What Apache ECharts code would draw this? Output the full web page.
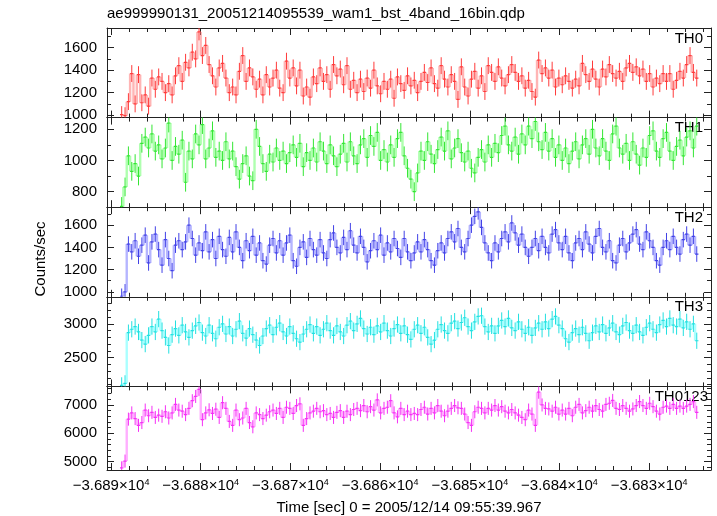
<!DOCTYPE html>
<html><head><meta charset="utf-8">
<script src="https://cdn.jsdelivr.net/npm/echarts@6/dist/echarts.min.js"></script>
<style>html,body{margin:0;padding:0;background:#fff}#c{width:717px;height:516px}</style>
</head><body><div id="c"></div>
<script>
// ---- data ----
const T0 = -36889.0;   // start time of first bin [s]
const BIN = 0.375;     // bin width [s]
const TITLE = 'ae999990131_20051214095539_wam1_bst_4band_16bin.qdp';
const XNAME = 'Time [sec] 0 = 2005/12/14 09:55:39.967';
const YNAME = 'Counts/sec';
const PANELS = ['TH0','TH1','TH2','TH3','TH0123'];

const TH0 = [1005,995,1120,1370,1100,1360,1110,1180,1080,1330,
1230,1340,1300,1200,1280,1180,1350,1440,1300,1470,
1420,1560,1500,1740,1530,1620,1450,1350,1250,1420,
1460,1330,1200,1250,1180,1390,1530,1300,1420,1340,
1230,1320,1180,1360,1250,1330,1400,1240,1200,1480,
1330,1420,1260,1400,1170,1250,1160,1340,1280,1420,
1300,1360,1230,1450,1350,1410,1270,1440,1230,1310,
1200,1320,
1210,1330,1240,1400,1260,1190,1300,1230,1320,1150,
1340,1280,1220,1350,1260,1310,1200,1300,1380,1290,
1420,1280,1240,1440,1320,1250,1360,1300,1140,1430,
1250,1170,1320,1390,1240,1350,1210,1440,1380,1300,
1430,1330,1260,1360,1450,1380,1300,1350,1240,1310,
1210,1160,1490,1370,1420,1330,1400,1250,1330,1270,
1350,1300,1240,1320,1260,1460,1360,1300,1410,1320,
1250,1410,1340,1450,1370,1330,1390,1300,1420,1460,
1380,1430,1350,1410,1300,1370,1250,1330,1280,1370,
1300,1370,1230,1310,1390,1330,1450,1530,1380,1330];

const TH1 = [705,830,1030,930,980,900,1110,1150,1080,1170,
1060,1100,1010,1080,1240,1000,1090,1040,1130,860,
1060,1010,1170,1100,1230,1010,1080,1190,1020,1060,
1000,1120,1010,1060,960,880,980,1030,900,870,
1200,1090,980,930,1040,990,1080,1000,1060,980,
1050,1100,1020,1110,960,1050,1000,1080,990,1120,
1060,980,1100,1030,960,1040,1110,990,1120,1030,
980,1100,1140,1020,1160,1090,1180,1000,1070,990,
1100,1020,1140,1180,1030,950,880,800,920,1060,
1000,1120,1040,980,1070,1150,1060,1190,1010,1080,
1140,1050,990,1060,950,920,1020,1070,990,1100,
1020,1110,1050,1160,1220,1100,1060,1150,1040,1170,
1100,1220,1140,1250,1120,1070,1180,1060,1140,1020,
1100,1000,1080,980,1060,1120,1010,1100,1140,1040,
1200,1080,1030,1140,1060,1000,1170,1220,1080,1040,
1110,1000,1120,1040,970,1080,1020,1160,1190,1060,
1020,1140,1180,1060,1000,1090,1130,1030,1150,1190,
1080,1220];

const TH2 = [960,1000,1430,1360,1460,1320,1420,1510,1260,1450,
1520,1380,1240,1470,1300,1190,1420,1460,1380,1450,
1600,1480,1330,1440,1370,1540,1360,1470,1300,1500,
1380,1320,1490,1360,1540,1400,1280,1460,1370,1500,
1330,1440,1280,1250,1420,1480,1350,1460,1330,1440,
1510,1280,1230,1400,1450,1310,1480,1380,1330,1470,
1350,1300,1470,1530,1400,1350,1490,1380,1550,1420,
1350,1500,1400,1270,1370,1460,1380,1510,1330,1440,
1360,1480,1390,1310,1480,1360,1280,1350,1450,1360,
1470,1380,1280,1240,1370,1440,1350,1480,1540,1450,
1570,1400,1360,1480,1600,1680,1720,1580,1440,1350,
1280,1440,1360,1480,1540,1450,1620,1530,1420,1520,
1400,1320,1400,1480,1370,1500,1400,1350,1520,1560,
1440,1380,1500,1350,1280,1440,1480,1380,1540,1430,
1350,1500,1570,1400,1360,1460,1280,1260,1420,1480,
1360,1440,1520,1560,1430,1380,1540,1460,1400,1280,
1240,1400,1460,1380,1500,1400,1340,1470,1520,1420,
1500,1340];

const TH3 = [2090,2120,2870,2920,2960,2880,2760,2700,2830,2960,
2880,3070,2900,2800,2680,2840,2930,2830,2980,2880,
2800,2900,2970,3020,2870,2820,2980,2860,2780,2950,
3000,2850,2960,2820,2920,3040,2860,2790,2930,2840,
2760,2680,2820,2930,2980,2840,2950,3010,2880,2820,
2960,2860,2780,2730,2850,2920,2990,2860,2960,2830,
2920,3010,2900,2830,2970,2880,2820,2980,3040,2900,
3000,3080,2930,2850,2950,2840,2970,2880,3010,2900,
2820,2930,2990,2860,2970,2840,2770,2920,2980,2860,
2950,2800,2700,2760,2920,2990,2900,2860,3010,3040,
2930,3020,3090,2960,2900,3030,3110,3120,2960,2880,
2970,2860,2970,3050,2960,3080,2940,2900,3030,2920,
2860,2950,2830,2940,3010,2920,3030,2930,3070,3110,
2980,2930,2780,2730,2870,2930,2840,2950,2860,2750,
2870,2970,2880,2990,2860,2940,3010,2880,2840,2970,
3020,2900,2860,2980,2880,2830,2950,3010,2920,2870,
2990,3050,2960,3080,2980,2960,3070,2940,3030,2920,
3000,2750];

const TH0123 = [4780,5020,6500,6720,6520,6280,6380,6820,6620,6740,
6560,6640,6600,6760,6540,6720,7020,6820,6780,6660,
6880,7150,7300,7550,6480,6720,6830,6700,6850,6560,
7080,6880,6420,6280,6820,6480,6540,6880,6380,6230,
6720,6660,6520,6640,6760,6820,6700,6880,6560,6920,
6880,6700,6980,7040,6280,6520,6720,6780,6880,6760,
6800,6660,6700,6560,6740,6800,6560,6780,6660,6840,
6880,6800,6980,6760,6940,6820,7180,6720,6880,6920,
7150,6720,6580,6880,6660,6780,6660,6700,6660,6840,
6920,6680,6880,6720,6980,6780,6620,6780,6880,6980,
6900,6880,6680,6380,6280,6760,6920,6880,6720,6880,
6820,6980,6820,6940,6780,6720,6840,6720,6640,6560,
6480,6820,6680,6280,7450,7000,6880,6860,6780,6920,
6680,6820,6680,6880,6620,6920,7020,6720,6800,6920,
6780,6980,6840,6780,7020,7060,7160,6880,6840,6980,
6880,6780,6860,6980,7120,6980,6880,7060,6940,6780,
6680,6920,6960,6880,7020,6880,6960,6880,6960,7020,
7120,6740];

const ERRS = [75, 60, 70, 120, 230];  // typical 1-sigma error per band

const X_RANGE = [-36890.45, -36823.1];
const X_MAJOR = [-36890,-36880,-36870,-36860,-36850,-36840,-36830];
const X_MINOR_STEP = 2;
const Y_RANGES = [[978,1775],[700,1275],[955,1762],[2075,3400],[4705,7655]];
const Y_MAJOR = [[1000,1200,1400,1600],[800,1000,1200],[1000,1200,1400,1600],[2500,3000],[5000,6000,7000]];
const Y_MINOR_STEP = [100,100,100,100,200];

// ---- style ----
const DARK = ['#ff3a3a','#33e633','#4040e6','#22e0e0','#f530f5'];
const LIGHT = ['rgba(255,120,120,0.55)','rgba(110,255,110,0.55)','rgba(120,120,255,0.55)','rgba(100,255,255,0.55)','rgba(255,110,255,0.55)'];
const FONT = '"Liberation Sans", Arial, Helvetica, sans-serif';
const AXC = '#222';
const G_TOP = 28, G_H = 89.6, G_LEFT = 107, G_W = 604;

const SERIES = [TH0, TH1, TH2, TH3, TH0123];

function ticksBetween(a, b, step) {
  const out = [];
  for (let v = Math.ceil(a / step) * step; v <= b + 1e-9; v += step) out.push(Math.round(v * 1000) / 1000);
  return out;
}
const X_MINOR = ticksBetween(X_RANGE[0], X_RANGE[1], X_MINOR_STEP);

const grids = [], xAxes = [], yAxes = [], series = [], graphics = [];
for (let k = 0; k < 5; k++) {
  grids.push({left: G_LEFT, width: G_W, top: G_TOP + G_H * k, height: G_H, containLabel: false});
  const isBottom = k === 4;
  const baseX = {gridIndex: k, type: 'value', min: X_RANGE[0], max: X_RANGE[1], splitLine: {show: false}};
  xAxes.push(Object.assign({}, baseX, {
    position: 'bottom',
    axisLine: {show: true, onZero: false, lineStyle: {color: AXC, width: 1}},
    axisTick: {show: true, inside: true, length: 7, customValues: X_MAJOR, lineStyle: {color: AXC}},
    axisLabel: isBottom ? {
      show: true, customValues: X_MAJOR, margin: 8, color: '#000', fontFamily: FONT, fontSize: 15,
      formatter: v => '{a|' + (v / 1e4).toFixed(3).replace('-', '\u2212') + '\u00d710}{s|4}',
      rich: {a: {fontSize: 15, fontFamily: FONT, color: '#000'},
             s: {fontSize: 9, fontFamily: FONT, color: '#000', verticalAlign: 'top', lineHeight: 12}}
    } : {show: false},
    name: isBottom ? XNAME : '', nameLocation: 'middle', nameGap: 30,
    nameTextStyle: {fontFamily: FONT, fontSize: 15, color: '#000'}
  }));
  xAxes.push(Object.assign({}, baseX, {
    position: 'bottom', axisLine: {show: false},
    axisTick: {show: true, inside: true, length: 4, customValues: X_MINOR, lineStyle: {color: AXC}},
    axisLabel: {show: false}
  }));
  xAxes.push(Object.assign({}, baseX, {
    position: 'top',
    axisLine: {show: true, onZero: false, lineStyle: {color: AXC, width: 1}},
    axisTick: {show: true, inside: true, length: 7, customValues: X_MAJOR, lineStyle: {color: AXC}},
    axisLabel: {show: false}
  }));
  xAxes.push(Object.assign({}, baseX, {
    position: 'top', axisLine: {show: false},
    axisTick: {show: true, inside: true, length: 4, customValues: X_MINOR, lineStyle: {color: AXC}},
    axisLabel: {show: false}
  }));

  const yr = Y_RANGES[k];
  const yMinor = ticksBetween(yr[0], yr[1], Y_MINOR_STEP[k]);
  const baseY = {gridIndex: k, type: 'value', min: yr[0], max: yr[1], splitLine: {show: false}};
  yAxes.push(Object.assign({}, baseY, {
    position: 'left',
    axisLine: {show: true, onZero: false, lineStyle: {color: AXC}},
    axisTick: {show: true, inside: true, length: 7, customValues: Y_MAJOR[k], lineStyle: {color: AXC}},
    axisLabel: {show: true, customValues: Y_MAJOR[k], margin: 10, color: '#000', fontFamily: FONT, fontSize: 15,
      formatter: v => String(Math.round(v))}
  }));
  yAxes.push(Object.assign({}, baseY, {
    position: 'left', axisLine: {show: false},
    axisTick: {show: true, inside: true, length: 4, customValues: yMinor, lineStyle: {color: AXC}},
    axisLabel: {show: false}
  }));
  yAxes.push(Object.assign({}, baseY, {
    position: 'right',
    axisLine: {show: true, onZero: false, lineStyle: {color: AXC}},
    axisTick: {show: true, inside: true, length: 7, customValues: Y_MAJOR[k], lineStyle: {color: AXC}},
    axisLabel: {show: false}
  }));
  yAxes.push(Object.assign({}, baseY, {
    position: 'right', axisLine: {show: false},
    axisTick: {show: true, inside: true, length: 4, customValues: yMinor, lineStyle: {color: AXC}},
    axisLabel: {show: false}
  }));

  const vals = SERIES[k];
  const data = vals.map((v, i) => [T0 + BIN * i, v, i > 0 ? vals[i - 1] : v, ERRS[k]]);
  const dark = DARK[k], light = LIGHT[k];
  series.push({
    type: 'custom', xAxisIndex: k * 4, yAxisIndex: k * 4, clip: true, silent: true, animation: false,
    data: data,
    renderItem: function (params, api) {
      const t = api.value(0), v = api.value(1), pv = api.value(2), e = api.value(3);
      const a = api.coord([t, v]), b = api.coord([t + BIN, v]), p = api.coord([t, pv]);
      const hi = api.coord([t + BIN / 2, v + e]), lo = api.coord([t + BIN / 2, v - e]);
      return {type: 'group', children: [
        {type: 'rect', shape: {x: a[0] - 1.2, y: Math.min(a[1], p[1]), width: 2.4, height: Math.abs(a[1] - p[1])}, style: {fill: light}},
        {type: 'line', shape: {x1: a[0], y1: a[1], x2: b[0], y2: b[1]}, style: {stroke: dark, lineWidth: 1.2}},
        {type: 'line', shape: {x1: hi[0], y1: hi[1], x2: lo[0], y2: lo[1]}, style: {stroke: dark, lineWidth: 1}}
      ]};
    }
  });

  graphics.push({type: 'text', right: k === 4 ? 717 - 708 : 717 - 703, top: G_TOP + G_H * k + 3,
    style: {text: PANELS[k], font: '15px ' + FONT, fill: '#000'}});
}

graphics.push({type: 'text', left: 107, top: 6, style: {text: TITLE, font: '15px ' + FONT, fill: '#000'}});
graphics.push({type: 'text', x: 41, y: 259, rotation: Math.PI / 2,
  style: {text: YNAME, font: '15px ' + FONT, fill: '#000', align: 'center', verticalAlign: 'middle'}});

const chart = echarts.init(document.getElementById('c'), null, {renderer: 'canvas'});
chart.setOption({
  animation: false,
  backgroundColor: '#fff',
  grid: grids, xAxis: xAxes, yAxis: yAxes, series: series, graphic: graphics
});
</script></body></html>
